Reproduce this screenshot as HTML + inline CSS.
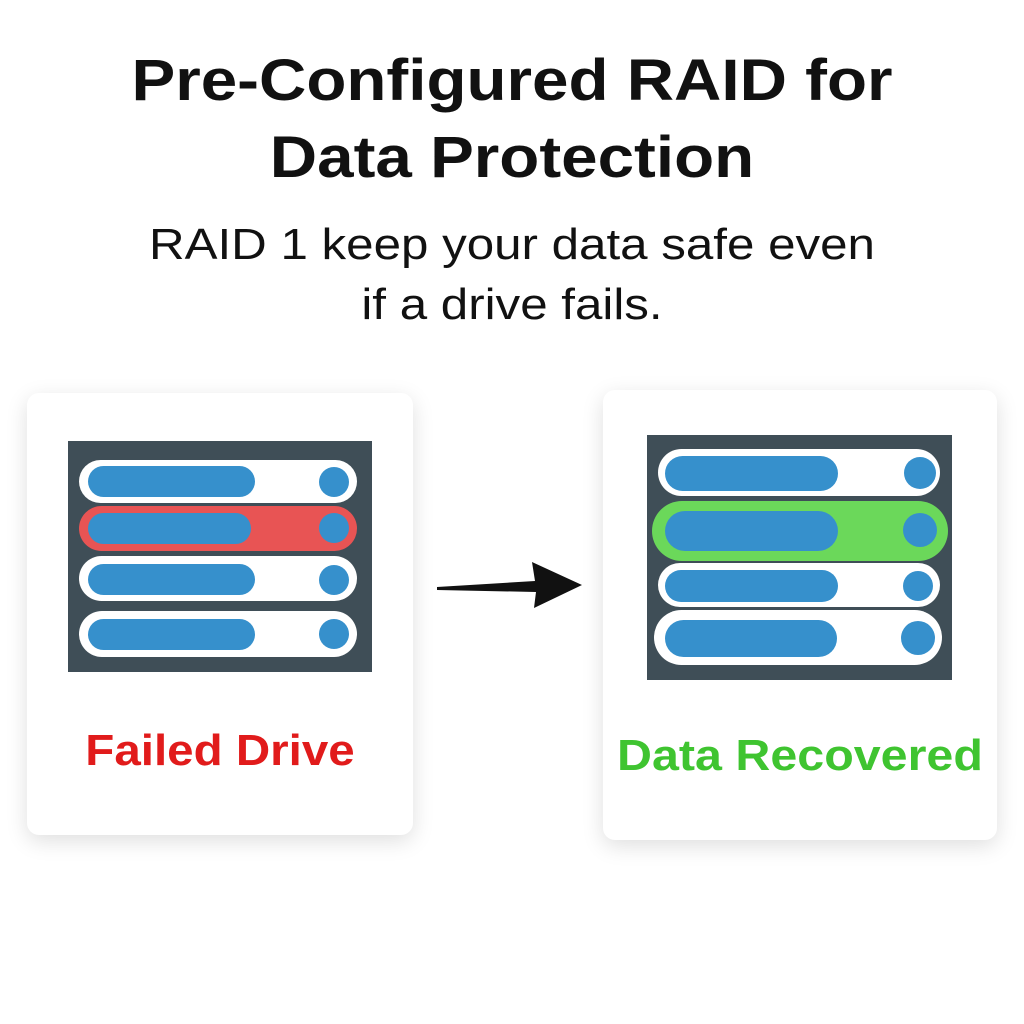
<!DOCTYPE html>
<html><head><style>
body{margin:0;width:1024px;height:1024px;background:#fff;font-family:"Liberation Sans",sans-serif;position:relative;overflow:hidden}
.t{position:absolute;left:0;width:1024px;text-align:center;color:#111}
.card{position:absolute;background:#fff;border-radius:12px;box-shadow:0 6px 22px rgba(0,0,0,0.13)}
</style></head><body>
<div class="t" style="top:42px;font-size:58px;font-weight:bold;line-height:77px;transform:scaleX(1.13)">Pre-Configured RAID for<br>Data Protection</div>
<div class="t" style="top:215px;font-size:44px;line-height:60px;transform:scaleX(1.12)">RAID 1 keep your data safe even<br>if a drive fails.</div>
<div class="card" style="left:27px;top:393px;width:386px;height:442px"></div>
<div class="card" style="left:603px;top:390px;width:394px;height:450px"></div>
<svg width="1024" height="1024" style="position:absolute;left:0;top:0">
<rect x="68" y="441" width="304" height="231" fill="#3f4e57"/>
<g>
<rect x="79" y="460" width="278" height="43" rx="21.5" fill="#fff"/>
<rect x="88" y="466" width="167" height="31" rx="15.5" fill="#3690cc"/>
<circle cx="334" cy="482" r="15" fill="#3690cc"/>
<rect x="79" y="506" width="278" height="45" rx="22.5" fill="#e85454"/>
<rect x="88" y="513" width="163" height="31" rx="15.5" fill="#3690cc"/>
<circle cx="334" cy="528" r="15" fill="#3690cc"/>
<rect x="79" y="556" width="278" height="45" rx="22.5" fill="#fff"/>
<rect x="88" y="564" width="167" height="31" rx="15.5" fill="#3690cc"/>
<circle cx="334" cy="580" r="15" fill="#3690cc"/>
<rect x="79" y="611" width="278" height="46" rx="23" fill="#fff"/>
<rect x="88" y="619" width="167" height="31" rx="15.5" fill="#3690cc"/>
<circle cx="334" cy="634" r="15" fill="#3690cc"/>
</g>
<rect x="647" y="435" width="305" height="245" fill="#3f4e57"/>
<g>
<rect x="658" y="449" width="282" height="47" rx="23.5" fill="#fff"/>
<rect x="665" y="456" width="173" height="35" rx="17.5" fill="#3690cc"/>
<circle cx="920" cy="473" r="16" fill="#3690cc"/>
<rect x="652" y="501" width="296" height="60" rx="30" fill="#6bd85a"/>
<rect x="665" y="511" width="173" height="40" rx="20" fill="#3690cc"/>
<circle cx="920" cy="530" r="17" fill="#3690cc"/>
<rect x="658" y="563" width="282" height="44" rx="22" fill="#fff"/>
<rect x="665" y="570" width="173" height="32" rx="16" fill="#3690cc"/>
<circle cx="918" cy="586" r="15" fill="#3690cc"/>
<rect x="654" y="610" width="288" height="55" rx="27.5" fill="#fff"/>
<rect x="665" y="620" width="172" height="37" rx="18.5" fill="#3690cc"/>
<circle cx="918" cy="638" r="17" fill="#3690cc"/>
</g>
<polygon points="437,587 535,581 532,562 582,585 534,608 536,592 437,590" fill="#111"/>
</svg>
<div style="position:absolute;left:27px;width:386px;top:726px;text-align:center;font-size:44px;font-weight:bold;color:#e11b1b;transform:scaleX(1.08)">Failed Drive</div>
<div style="position:absolute;left:600px;width:400px;top:731px;text-align:center;font-size:44px;font-weight:bold;color:#3fc430;transform:scaleX(1.1)">Data Recovered</div>
</body></html>
